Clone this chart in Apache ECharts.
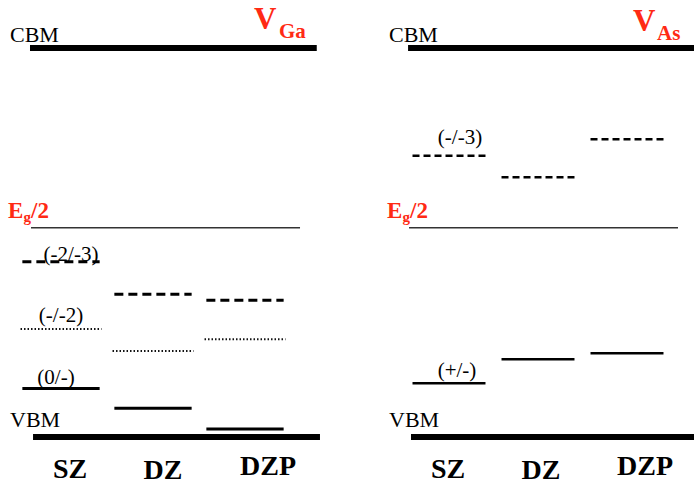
<!DOCTYPE html>
<html>
<head>
<meta charset="utf-8">
<script src="https://cdn.jsdelivr.net/npm/echarts@6/dist/echarts.min.js"></script>
<style>
  html, body { margin: 0; padding: 0; background: #fff; }
  #chart { width: 694px; height: 483px; }
</style>
</head>
<body>
<div id="chart"></div>
<script>
// ---- data (energies in eV above VBM) ----
const categories = ['SZ', 'DZ', 'DZP'];
const vbmEnergy = 0.0;
const cbmEnergy = 1.52;
const midGapEnergy = 0.818;
const vGa_m2m3 = [0.685, 0.558, 0.534];   // (-2/-3), dashed
const vGa_m1m2 = [0.422, 0.336, 0.382];   // (-/-2), dotted
const vGa_0m1  = [0.190, 0.112, 0.031];   // (0/-), solid
const vAs_m1m3 = [1.099, 1.015, 1.163];   // (-/-3), dashed
const vAs_pm   = [0.210, 0.304, 0.327];   // (+/-), solid
const labelsGa = ['(-2/-3)', '(-/-2)', '(0/-)'];
const labelsAs = ['(-/-3)', '(+/-)'];

// ---- style / layout ----
const SERIF = 'Liberation Serif';
const RED = '#ff2a14';

function levelSeries(grid, values, st, label) {
  return {
    type: 'custom', xAxisIndex: grid, yAxisIndex: grid, clip: false, silent: true,
    data: values.map((v, i) => [i, v]),
    renderItem(params, api) {
      const i = api.value(0), e = api.value(1);
      const a = api.coord([i - st.hw, e]);
      const b = api.coord([i + st.hw, e]);
      const children = [{
        type: 'line',
        shape: { x1: a[0], y1: a[1], x2: b[0], y2: b[1] },
        style: { stroke: st.color || '#000', lineWidth: st.width, lineDash: st.dash || null, lineCap: 'butt' }
      }];
      if (label && params.dataIndex === 0) {
        children.push({
          type: 'text',
          style: {
            text: label.text, x: (a[0] + b[0]) / 2 + label.dx, y: a[1] + label.dy,
            fontSize: 21, fontFamily: SERIF, fill: '#000', align: 'center', verticalAlign: 'middle'
          }
        });
      }
      return { type: 'group', children };
    }
  };
}

function bandSeries(grid, value, x0, x1, width, color) {
  return {
    type: 'custom', xAxisIndex: grid, yAxisIndex: grid, clip: false, silent: true,
    data: [[0, value]],
    renderItem(params, api) {
      const e = api.value(1);
      const a = api.coord([x0, e]), b = api.coord([x1, e]);
      return {
        type: 'line',
        shape: { x1: a[0], y1: a[1], x2: b[0], y2: b[1] },
        style: { stroke: color, lineWidth: width, lineCap: 'butt' }
      };
    }
  };
}

function txt(x, y, text, size, opts) {
  opts = opts || {};
  return {
    type: 'text', x: x, y: y, silent: true,
    style: {
      text: text, fontSize: size, fontFamily: SERIF, fontWeight: opts.bold ? 'bold' : 'normal',
      fill: opts.color || '#000', align: opts.align || 'left', verticalAlign: 'middle'
    }
  };
}

const graphics = [];
// left panel texts
graphics.push(txt(10, 34, 'CBM', 22));
graphics.push(txt(10, 419, 'VBM', 22));
graphics.push(txt(8, 210.5, 'E', 23, { bold: true, color: RED }));
graphics.push(txt(23.5, 217, 'g', 15, { bold: true, color: RED }));
graphics.push(txt(31, 210.5, '/2', 23, { bold: true, color: RED }));
graphics.push(txt(254, 18, 'V', 31, { bold: true, color: RED }));
graphics.push(txt(279, 31, 'Ga', 21, { bold: true, color: RED }));
// right panel texts
graphics.push(txt(389, 34, 'CBM', 22));
graphics.push(txt(389, 419, 'VBM', 22));
graphics.push(txt(387, 210.5, 'E', 23, { bold: true, color: RED }));
graphics.push(txt(402.5, 217, 'g', 15, { bold: true, color: RED }));
graphics.push(txt(410, 210.5, '/2', 23, { bold: true, color: RED }));
graphics.push(txt(633, 20, 'V', 31, { bold: true, color: RED }));
graphics.push(txt(657, 33, 'As', 21, { bold: true, color: RED }));
// category labels
const catPosL = [[70, 468], [163, 469], [268, 465]];
const catPosR = [[448, 468], [541, 469], [645, 465]];
categories.forEach((c, i) => {
  graphics.push(txt(catPosL[i][0], catPosL[i][1], c, 28, { bold: true, align: 'center' }));
  graphics.push(txt(catPosR[i][0], catPosR[i][1], c, 28, { bold: true, align: 'center' }));
});

const axisOff = { show: false };
const chart = echarts.init(document.getElementById('chart'), null, { renderer: 'svg' });
chart.setOption({
  animation: false,
  backgroundColor: '#fff',
  grid: [
    { left: 15, top: 48, width: 276, height: 389 },
    { left: 404.5, top: 48, width: 267, height: 389 }
  ],
  xAxis: [
    { type: 'value', gridIndex: 0, min: -0.5, max: 2.5, ...axisOff },
    { type: 'value', gridIndex: 1, min: -0.5, max: 2.5, ...axisOff }
  ],
  yAxis: [
    { type: 'value', gridIndex: 0, min: 0, max: 1.52, ...axisOff },
    { type: 'value', gridIndex: 1, min: 0, max: 1.52, ...axisOff }
  ],
  graphic: graphics,
  series: [
    bandSeries(0, cbmEnergy, -0.337, 2.78, 6, '#000'),
    bandSeries(0, vbmEnergy, -0.304, 2.815, 6, '#000'),
    bandSeries(0, midGapEnergy, -0.326, 2.598, 1.5, '#333'),
    levelSeries(0, vGa_m2m3, { hw: 0.42, width: 3, dash: [9, 5] }, { text: labelsGa[0], dx: 10, dy: -8 }),
    levelSeries(0, vGa_m1m2, { hw: 0.44, width: 2, dash: [1.5, 2], color: '#111' }, { text: labelsGa[1], dx: 0, dy: -14 }),
    levelSeries(0, vGa_0m1, { hw: 0.42, width: 3 }, { text: labelsGa[2], dx: -5, dy: -11 }),

    bandSeries(1, cbmEnergy, -0.46, 2.76, 6, '#000'),
    bandSeries(1, vbmEnergy, -0.427, 2.76, 6, '#000'),
    bandSeries(1, midGapEnergy, -0.449, 2.573, 1.5, '#333'),
    levelSeries(1, vAs_m1m3, { hw: 0.41, width: 2.5, dash: [7, 4] }, { text: labelsAs[0], dx: 11, dy: -19 }),
    levelSeries(1, vAs_pm, { hw: 0.41, width: 2.5 }, { text: labelsAs[1], dx: 8, dy: -13 })
  ]
});
</script>
</body>
</html>
